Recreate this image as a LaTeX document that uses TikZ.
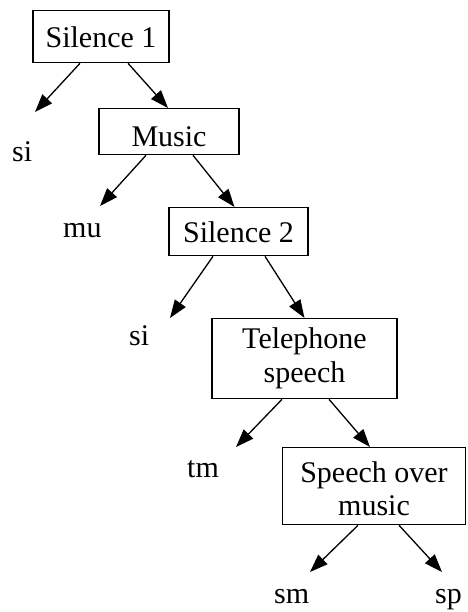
\documentclass[tikz,border=0pt]{standalone}
\usepackage{fontspec}
\setmainfont{Liberation Serif}
\usetikzlibrary{arrows.meta}

\begin{document}
\begin{tikzpicture}[x=1pt, y=-1pt,
    every node/.style={font=\fontsize{30}{34}\selectfont},
    classbox/.style={draw, line width=1.3pt, inner xsep=0pt, inner ysep=0pt,
                     align=center, anchor=north},
    leaf/.style={inner sep=0pt, anchor=base west},
    arr/.style={line width=1.3pt, -{Triangle[length=18pt, width=13pt]}}]
  \useasboundingbox (0,0) rectangle (467,612);

  % class boxes of the decision cascade
  \node[classbox, minimum width=136pt, text height=37pt, text depth=15pt]
    (s1) at (101,10) {Silence 1};
  \node[classbox, minimum width=140pt, text height=38pt, text depth=8pt]
    (mus) at (169,108) {Music};
  \node[classbox, minimum width=139pt, text height=35pt, text depth=13pt]
    (s2) at (238.5,207) {Silence 2};
  \node[classbox, minimum width=185pt, text height=64pt, text depth=16pt]
    (tel) at (304.5,318) {Telephone\\speech};
  \node[classbox, minimum width=183pt, text height=68pt, text depth=9pt,
        font=\fontsize{30}{33}\selectfont]
    (som) at (374,447) {Speech over\\music};

  % leaf labels
  \node[leaf] (si1) at (12,162) {si};
  \node[leaf] (mu)  at (63,237) {mu};
  \node[leaf] (si2) at (129,345) {si};
  \node[leaf] (tm)  at (187,477) {tm};
  \node[leaf] (sm)  at (274,603) {sm};
  \node[leaf] (sp)  at (435,603) {sp};

  % arrow tips that end above the leaf labels
  \coordinate (t1) at (35,112);
  \coordinate (t2) at (100,206);
  \coordinate (t3) at (170,318);
  \coordinate (t4) at (236,447);
  \coordinate (t5) at (310,572);
  \coordinate (t6) at (442,572);

  % connectors
  \draw[arr] ([xshift=-21pt]s1.south) -- (t1);
  \draw[arr] ([xshift=27pt]s1.south) -- ([xshift=-1pt]mus.north);
  \draw[arr] ([xshift=-23pt]mus.south) -- (t2);
  \draw[arr] ([xshift=24pt]mus.south) -- ([xshift=-4pt]s2.north);
  \draw[arr] ([xshift=-25.5pt]s2.south) -- (t3);
  \draw[arr] ([xshift=26.5pt]s2.south) -- (tel.north);
  \draw[arr] ([xshift=-22.5pt]tel.south) -- (t4);
  \draw[arr] ([xshift=24.5pt]tel.south) -- ([xshift=-4pt]som.north);
  \draw[arr] ([xshift=-16pt]som.south) -- (t5);
  \draw[arr] ([xshift=25pt]som.south) -- (t6);
\end{tikzpicture}
\end{document}
